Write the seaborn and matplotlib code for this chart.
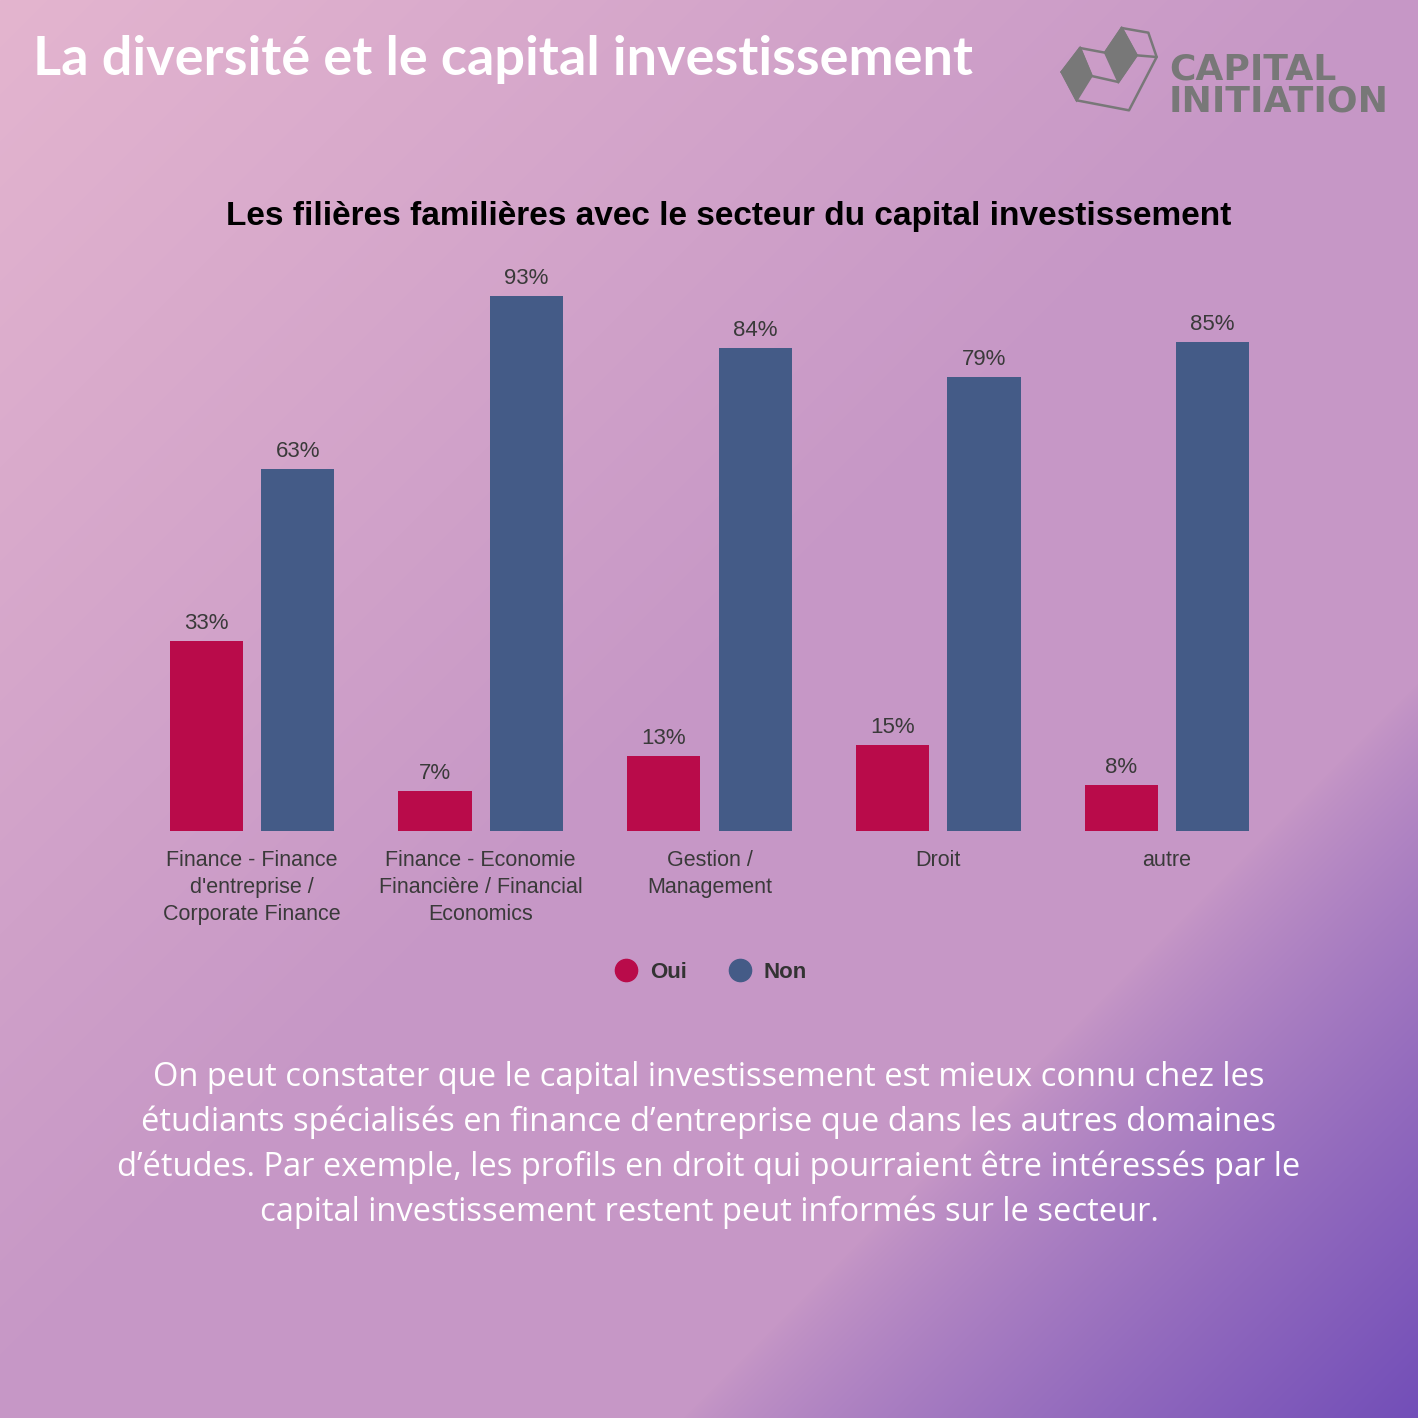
import numpy as np
import pandas as pd
import matplotlib
matplotlib.use('Agg')
import matplotlib.pyplot as plt
import seaborn as sns
from matplotlib.lines import Line2D
from matplotlib.patches import Polygon

# Data
categories = ["Finance - Finance\nd'entreprise /\nCorporate Finance",
              "Finance - Economie\nFinancière / Financial\nEconomics",
              "Gestion /\nManagement",
              "Droit",
              "autre"]
oui = [33, 7, 13, 15, 8]
non = [63, 93, 84, 79, 85]
series = ['Oui', 'Non']
palette = {'Oui': '#B90B4A', 'Non': '#445B87'}

title = 'La diversité et le capital investissement'
chart_title = 'Les filières familières avec le secteur du capital investissement'
paragraph = ["On peut constater que le capital investissement est mieux connu chez les",
             "étudiants spécialisés en finance d’entreprise que dans les autres domaines",
             "d’études. Par exemple, les profils en droit qui pourraient être intéressés par le",
             "capital investissement restent peut informés sur le secteur."]

df = pd.DataFrame({
    'Filière': categories * 2,
    'Réponse': ['Oui'] * len(oui) + ['Non'] * len(non),
    'Pourcentage': oui + non,
})

sns.set_style('white')
plt.rcParams['font.family'] = ['Liberation Sans', 'DejaVu Sans']

W = H = 1418
fig = plt.figure(figsize=(14.18, 14.18), dpi=100)


def fx(px):
    return px / W


def fy(py):
    return 1 - py / H


# gradient background: pink top-left -> mauve, purple in the bottom-right corner
bg = fig.add_axes([0, 0, 1, 1], zorder=-10)
yy, xx = np.mgrid[0:H, 0:W].astype(float)
pink = np.array([228, 181, 207]) / 255
mauve = np.array([198, 151, 198]) / 255
purple = np.array([114, 78, 184]) / 255
s = np.clip((xx + yy) / 1400, 0, 1)[..., None]
img = pink * (1 - s) + mauve * s
w = np.clip((xx + yy - 2100) / 736, 0, 1)[..., None] ** 0.8
img = img * (1 - w) + purple * w
bg.imshow(img, extent=[0, W, H, 0], aspect='auto')
bg.set_axis_off()

# bar chart
ax = fig.add_axes([fx(137.6), fy(831), fx(1143.75), 575.3 / H])
ax.patch.set_alpha(0)
sns.barplot(data=df, x='Filière', y='Pourcentage', hue='Réponse',
            order=categories, hue_order=series, palette=palette,
            saturation=1, width=0.8, gap=0.2, errorbar=None,
            linewidth=0, legend=False, ax=ax)
ax.set_xlim(-0.5, 4.5)
ax.set_ylim(0, 100)
ax.set_xlabel('')
ax.set_ylabel('')
ax.set_yticks([])
sns.despine(ax=ax, left=True, bottom=True)
ax.set_xticks(range(len(categories)))
ax.set_xticklabels(categories, fontsize=15.5, color='#3a3a3a', linespacing=1.38)
ax.tick_params(axis='x', length=0, pad=13.5)

for cont, vals in zip(ax.containers, [oui, non]):
    ax.bar_label(cont, labels=[f'{v}%' for v in vals], padding=5,
                 fontsize=16, color='#3a3a3a')

# legend
handles = [Line2D([], [], marker='o', linestyle='', markersize=16,
                  markerfacecolor=palette[k], markeredgecolor=palette[k], label=k)
           for k in series]
leg = fig.legend(handles=handles, loc='center', ncol=2, frameon=False,
                 bbox_to_anchor=(fx(711), fy(972)), handlelength=1.0,
                 handletextpad=0.55, columnspacing=1.9,
                 prop={'size': 16, 'weight': 'bold'})
for t in leg.get_texts():
    t.set_color('#333333')

# titles
fig.text(fx(33), fy(75), title, color='white', fontsize=39, fontweight='bold',
         family='Lato', ha='left', va='baseline')
fig.text(fx(728.5), fy(225), chart_title, color='black', fontsize=24,
         fontweight='bold', ha='center', va='baseline')

for i, line in enumerate(paragraph):
    fig.text(fx(709), fy(1086 + 45 * i), line, color='white', fontsize=23.5,
             family='Open Sans', ha='center', va='baseline')

# logo
grey = '#787878'


def lp(zx, zy):
    return (fx(1055 + zx / 3), fy(22 + zy / 3))


for face in [[(20, 150), (75, 78), (110, 162), (65, 235)],
             [(150, 92), (200, 18), (245, 100), (190, 180)]]:
    fig.patches.append(Polygon([lp(*p) for p in face], closed=True,
                               transform=fig.transFigure, facecolor=grey,
                               edgecolor=grey, linewidth=1.5))
for path in [[(20, 150), (75, 78), (150, 92), (200, 18), (280, 32), (305, 105),
              (222, 265), (65, 235), (20, 150)],
             [(75, 78), (110, 162), (190, 180), (245, 100), (305, 105)],
             [(245, 100), (200, 18)]]:
    xs, ys = zip(*[lp(*p) for p in path])
    fig.lines.append(Line2D(xs, ys, transform=fig.transFigure, color=grey,
                            linewidth=1.8))

fig.text(fx(1169), fy(112), 'CAPITAL\nINITIATION', color=grey, fontsize=26,
         fontweight='bold', family='DejaVu Sans', ha='left', va='baseline',
         linespacing=0.93)

fig.savefig('out.png', dpi=100)
